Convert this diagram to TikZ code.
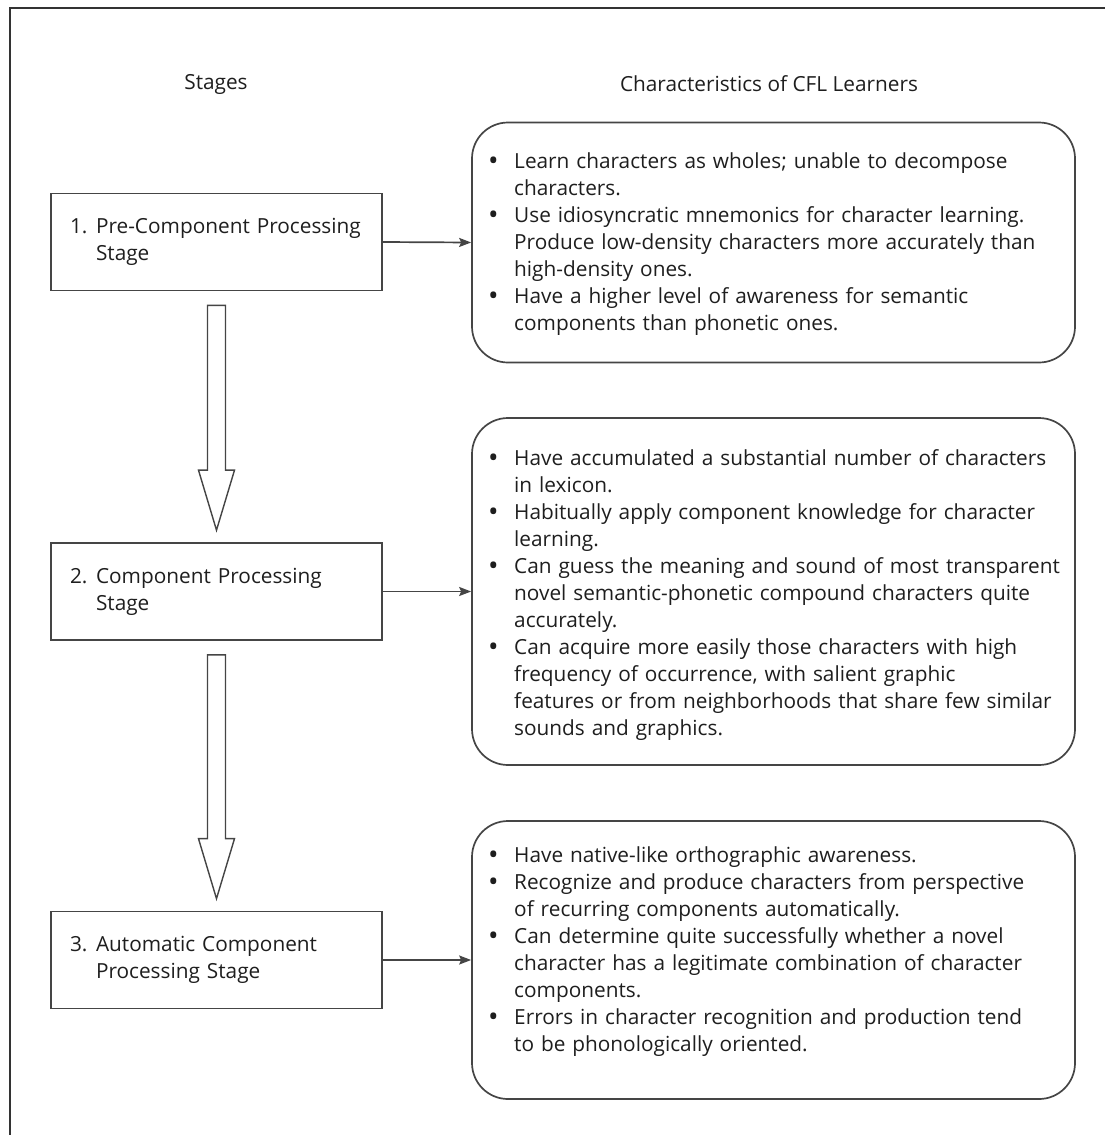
\documentclass[tikz,border=0pt]{standalone}
\usepackage{fontspec}
\setmainfont{Open Sans}
\usetikzlibrary{arrows.meta,calc}
\definecolor{ink}{HTML}{1E1E1E}
\definecolor{linegray}{HTML}{454545}

% one bullet item with a hanging indent
\newcommand\bitem{\par\noindent\hangindent=24pt\hangafter=1%
  \makebox[24pt][l]{\hspace*{-2pt}\raisebox{-1.8pt}{\fontsize{28}{27}\selectfont\textbullet}}}
\newcommand\nl{\newline}
% numbered stage label, second line aligned with the first word
\newcommand\snum[1]{\makebox[26pt][l]{#1}}
\newcommand\sind{\hspace*{26pt}}

\begin{document}
\begin{tikzpicture}[x=1pt,y=-1pt,
  every node/.style={text=ink,font=\fontsize{20.8}{27}\selectfont},
  frameline/.style={draw=black!80,line width=1.4pt},
  stagebox/.style={draw=linegray,line width=1.7pt,rectangle,
    minimum width=331pt,minimum height=97pt,text width=293pt,
    inner xsep=19pt,align=left},
  charbox/.style={draw=linegray,line width=1.7pt,rectangle,
    rounded corners=36pt,minimum width=603pt},
  listtext/.style={anchor=west,text width=575pt,inner sep=0pt},
  link/.style={draw=linegray,line width=1.7pt,-{Stealth[length=12pt,width=9pt,inset=2pt]}},
  blockarrow/.style={draw=linegray,line width=1.4pt,fill=white,line join=miter}
]
\useasboundingbox (0,0) rectangle (1105,1135);

% outer frame (top and left rules)
\draw[frameline] (10,1135) -- (10,8) -- (1105,8);

% column headings
\node (hstages) at (216,84) {Stages};
\node (hchars) at (769,84) {Characteristics of CFL Learners};

% stage boxes
\node[stagebox] (s1) at (216.5,242) {\snum{1.}Pre-Component Processing\\\sind Stage};
\node[stagebox] (s2) at (216.5,591.5) {\snum{2.}Component Processing\\\sind Stage};
\node[stagebox] (s3) at (216.5,960) {\snum{3.}Automatic Component\\\sind Processing Stage};

% characteristic boxes
\node[charbox,minimum height=240pt] (c1) at (773.5,242.5) {};
\node[charbox,minimum height=347pt] (c2) at (773.5,591.5) {};
\node[charbox,minimum height=278pt] (c3) at (773.5,960) {};

\node[listtext] (t1) at (490,238.5) {%
\bitem Learn characters as wholes; unable to decompose\nl characters.
\bitem Use idiosyncratic mnemonics for character learning.\nl Produce low-density characters more accurately than\nl high-density ones.
\bitem Have a higher level of awareness for semantic\nl components than phonetic ones.\par};

\node[listtext] (t2) at (490,589.5) {%
\bitem Have accumulated a substantial number of characters\nl in lexicon.
\bitem Habitually apply component knowledge for character\nl learning.
\bitem Can guess the meaning and sound of most transparent\nl novel semantic-phonetic compound characters quite\nl accurately.
\bitem Can acquire more easily those characters with high\nl frequency of occurrence, with salient graphic\nl features or from neighborhoods that share few similar\nl sounds and graphics.\par};

\node[listtext] (t3) at (490,946) {%
\bitem Have native-like orthographic awareness.
\bitem Recognize and produce characters from perspective\nl of recurring components automatically.
\bitem Can determine quite successfully whether a novel\nl character has a legitimate combination of character\nl components.
\bitem Errors in character recognition and production tend\nl to be phonologically oriented.\par};

% stage -> characteristics connectors
\draw[link] (s1.east) -- (c1.west);
\draw[link] (s2.east) -- (c2.west);
\draw[link] (s3.east) -- (c3.west);

% hollow block arrows between stages
\foreach \a/\b in {s1/s2,s2/s3}{
  \path let \p1=($(\a.south)+(0,14)$), \p2=($(\b.north)+(0,-12)$) in
    [blockarrow] (\x1-9pt,\y1) -- (\x1+9pt,\y1) -- (\x1+9pt,\y2+60pt)
    -- (\x1+18pt,\y2+60pt) -- (\x2,\y2) -- (\x1-18pt,\y2+60pt)
    -- (\x1-9pt,\y2+60pt) -- cycle;
}
\end{tikzpicture}
\end{document}
